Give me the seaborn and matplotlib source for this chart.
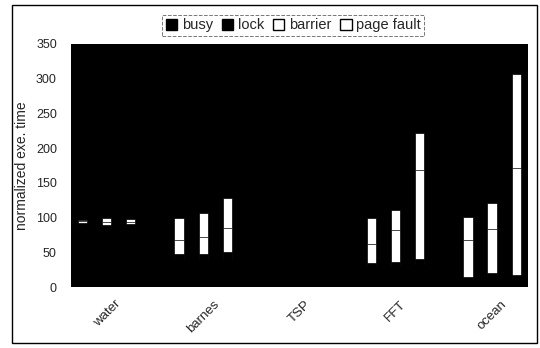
import numpy as np
import pandas as pd
import matplotlib
matplotlib.use("Agg")
import matplotlib.pyplot as plt
import seaborn as sns
from matplotlib.patches import Patch, Rectangle

# benchmarks, 3 bars each
groups = ['water', 'barnes', 'TSP', 'FFT', 'ocean']
busy = [90, 88, 89, 40, 38, 38, 95, 92, 90, 30, 30, 32, 12, 15, 12]
lock = [2, 1.5, 1.5, 7.5, 9.5, 12, 5, 8, 10, 4, 5.5, 8, 3, 5, 6]
barrier = [2.5, 4.5, 3.5, 20.5, 24.5, 34.5, 0, 0, 0, 28, 46.5, 128, 53, 64, 153]
page_fault = [2.5, 5, 4.5, 31, 35, 44, 0, 0, 0, 37, 29, 54, 32.5, 37.5, 135.5]

sns.set_style('white')
plt.rcParams['font.family'] = ['Liberation Sans', 'DejaVu Sans']

# slot positions: 3 bars per group, one empty slot between groups
slots = [g * 4 + k for g in range(len(groups)) for k in range(3)]
df = pd.DataFrame({'slot': slots, 'busy': busy, 'lock': lock,
                   'barrier': barrier, 'page_fault': page_fault})
df['t_busy'] = df['busy']
df['t_lock'] = df['t_busy'] + df['lock']
df['t_barrier'] = df['t_lock'] + df['barrier']
df['t_pf'] = df['t_barrier'] + df['page_fault']

fig = plt.figure(figsize=(5.4, 3.48), dpi=100)
ax = fig.add_axes([0.131, 0.175, 0.847, 0.699])
ax.set_facecolor('black')

# cumulative layers drawn from the top down; skip empty white segments
layers = [('t_pf', 'page_fault', 'white'), ('t_barrier', 'barrier', 'white'),
          ('t_lock', 'lock', 'black'), ('t_busy', 'busy', 'black')]
for col, part, fc in layers:
    d = df[df[part] > 0]
    sns.barplot(data=d, x='slot', y=col, native_scale=True, width=0.38,
                color=fc, edgecolor='black', linewidth=0.5, saturation=1,
                errorbar=None, ax=ax)

ax.set_xlim(-0.5, 18.5)
ax.set_ylim(0, 350)
ax.set_yticks(range(0, 351, 50))
ax.set_xticks([g * 4 + 1 for g in range(len(groups))])
ax.set_xticklabels(groups, rotation=45, ha='center', fontsize=9.5)
ax.tick_params(axis='y', labelsize=9, length=0, pad=10)
ax.tick_params(axis='x', length=0, pad=8)
ax.set_xlabel('')
ax.set_ylabel('normalized exe. time', fontsize=10, labelpad=5)
for s in ax.spines.values():
    s.set_visible(False)

handles = [Patch(facecolor='black', edgecolor='black', label='busy'),
           Patch(facecolor='black', edgecolor='black', label='lock'),
           Patch(facecolor='white', edgecolor='black', label='barrier'),
           Patch(facecolor='white', edgecolor='black', label='page fault')]
leg = fig.legend(handles=handles, loc='upper center', bbox_to_anchor=(0.543, 0.958),
                 ncol=4, fontsize=10.5, frameon=True, fancybox=False,
                 handlelength=0.8, handleheight=0.8, handletextpad=0.3,
                 columnspacing=0.6, borderpad=0.25, borderaxespad=0)
leg.get_frame().set_linestyle('--')
leg.get_frame().set_edgecolor('#555555')
leg.get_frame().set_linewidth(0.7)

# outer chart border
fig.patches.append(Rectangle((0.022, 0.014), 0.972, 0.972, transform=fig.transFigure,
                             fill=False, edgecolor='black', linewidth=1))

fig.savefig('out.png', dpi=100)
